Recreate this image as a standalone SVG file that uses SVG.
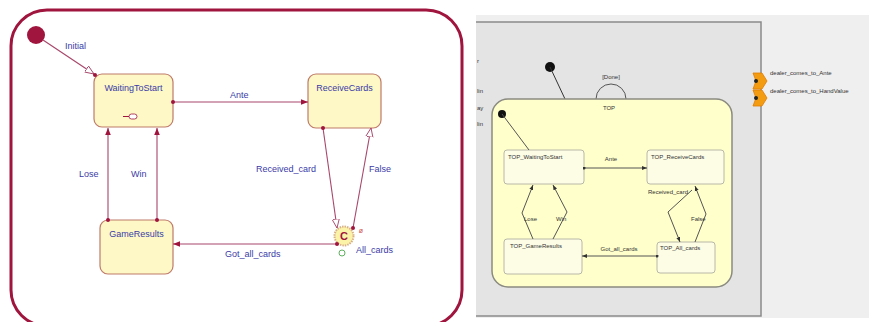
<svg xmlns="http://www.w3.org/2000/svg" width="877" height="322" viewBox="0 0 877 322">
<style>
.lbl{font-family:"Liberation Sans",Arial,sans-serif;font-size:9px;fill:#3b3ba8}
.st{fill:#fdf8c6;stroke:#c07a6a;stroke-width:1.2}
.cn{fill:none;stroke:#a8466a;stroke-width:1.1}
.rl{font-family:"Liberation Sans",Arial,sans-serif;font-size:6px;fill:#333}
.rs{fill:#fdfde6;stroke:#b8b8a8;stroke-width:1}
.rc{fill:none;stroke:#555;stroke-width:1}
</style>
<defs>
<marker id="af" viewBox="0 0 10 10" refX="10" refY="5" markerWidth="7" markerHeight="7" orient="auto" markerUnits="userSpaceOnUse"><path d="M0,1 L10,5 L0,9 z" fill="#a0153e"/></marker>
<marker id="ah" viewBox="0 0 10 10" refX="10" refY="5" markerWidth="9" markerHeight="9" orient="auto" markerUnits="userSpaceOnUse"><path d="M0,1 L10,5 L0,9 z" fill="#fff" stroke="#a8466a" stroke-width="1"/></marker>
<marker id="ds" viewBox="0 0 10 10" refX="5" refY="5" markerWidth="4" markerHeight="4" markerUnits="userSpaceOnUse"><circle cx="5" cy="5" r="5" fill="#a0153e"/></marker>
<marker id="ak" viewBox="0 0 10 10" refX="10" refY="5" markerWidth="5" markerHeight="5" orient="auto" markerUnits="userSpaceOnUse"><path d="M0,1 L10,5 L0,9 z" fill="#333"/></marker>
<marker id="dk" viewBox="0 0 10 10" refX="5" refY="5" markerWidth="3" markerHeight="3" markerUnits="userSpaceOnUse"><circle cx="5" cy="5" r="5" fill="#333"/></marker>
</defs>
<rect width="877" height="322" fill="#fff"/>

<!-- LEFT PANEL -->
<g id="frame-left">
<rect x="11" y="10" width="451" height="316" rx="36" fill="#fff" stroke="#a0153e" stroke-width="3"/>
</g>
<g id="initial">
<circle cx="36" cy="35" r="9" fill="#a0153e"/>
</g>
<g id="WaitingToStart">
<rect class="st" x="94" y="74" width="79" height="53" rx="8"/>
<text class="lbl" x="133.5" y="91" text-anchor="middle">WaitingToStart</text>
<rect x="129" y="114" width="8" height="5" rx="2.5" fill="#fff" stroke="#a0153e" stroke-width="0.8"/>
<line x1="123" y1="116.5" x2="129" y2="116.5" stroke="#a0153e" stroke-width="1"/>
</g>
<g id="ReceiveCards">
<rect class="st" x="308" y="74" width="73" height="54" rx="8"/>
<text class="lbl" x="344.5" y="91" text-anchor="middle">ReceiveCards</text>
</g>
<g id="GameResults">
<rect class="st" x="100" y="220" width="73" height="54" rx="8"/>
<text class="lbl" x="136.5" y="237" text-anchor="middle">GameResults</text>
</g>
<g id="All_cards">
<circle cx="344" cy="236" r="9.5" fill="#fbf3a8" stroke="#d8b088" stroke-width="2" stroke-dasharray="1.5 1"/>
<text x="344" y="240" text-anchor="middle" font-family="Liberation Sans,Arial,sans-serif" font-size="11" font-weight="bold" fill="#a0153e">C</text>
<text x="361" y="233" text-anchor="middle" font-family="Liberation Sans,Arial,sans-serif" font-size="7" fill="#d05050">ø</text>
<circle cx="342" cy="253" r="3" fill="none" stroke="#60b060" stroke-width="1"/>
<text class="lbl" x="356" y="253">All_cards</text>
</g>
<g id="connectors-left">
<line class="cn" x1="43" y1="40" x2="94" y2="74" marker-end="url(#ah)"/>
<circle cx="95" cy="75" r="2" fill="#a0153e"/>
<line class="cn" x1="173" y1="102" x2="308" y2="102" marker-start="url(#ds)" marker-end="url(#af)"/>
<line class="cn" x1="108" y1="220" x2="108" y2="128" marker-start="url(#ds)" marker-end="url(#af)"/>
<line class="cn" x1="157" y1="220" x2="157" y2="128" marker-start="url(#ds)" marker-end="url(#af)"/>
<line class="cn" x1="323" y1="128" x2="337" y2="228" marker-start="url(#ds)" marker-end="url(#ah)"/>
<line class="cn" x1="353" y1="228" x2="371" y2="128" marker-start="url(#ds)" marker-end="url(#ah)"/>
<line class="cn" x1="337" y1="244" x2="173" y2="244" marker-start="url(#ds)" marker-end="url(#af)"/>
<text class="lbl" x="65" y="49">Initial</text>
<text class="lbl" x="230" y="98">Ante</text>
<text class="lbl" x="79" y="177">Lose</text>
<text class="lbl" x="131" y="177">Win</text>
<text class="lbl" x="256" y="172">Received_card</text>
<text class="lbl" x="369" y="172">False</text>
<text class="lbl" x="225" y="257">Got_all_cards</text>
</g>

<!-- RIGHT PANEL -->
<g id="frame-right">
<rect x="476" y="15" width="393" height="303" fill="#efefef"/>
<rect x="476" y="22" width="285" height="294" fill="#e4e4e4"/>
<polyline points="476,22 761,22 761,316 476,316" fill="none" stroke="#8a8a8a" stroke-width="1.5"/>
<text class="rl" x="477" y="63">r</text>
<text class="rl" x="477" y="93">lin</text>
<text class="rl" x="477" y="110">ay</text>
<text class="rl" x="477" y="126">lin</text>
</g>
<g id="outer-initial">
<circle cx="550" cy="67" r="5" fill="#111"/>
<line x1="550" y1="67" x2="565" y2="99" stroke="#333" stroke-width="1"/>
</g>
<g id="TOP">
<path d="M596,99 A15,15 0 0 1 626,99" fill="none" stroke="#555" stroke-width="1"/>
<text class="rl" x="611" y="79" text-anchor="middle">[Done]</text>
<rect x="492" y="99" width="240" height="188" rx="16" fill="#ffffcc" stroke="#8a8a80" stroke-width="1.5"/>
<text class="rl" x="609" y="110" text-anchor="middle">TOP</text>
<circle cx="502" cy="114" r="4" fill="#111"/>
</g>
<g id="TOP_WaitingToStart">
<rect class="rs" x="504" y="150" width="80" height="34" rx="3"/>
<text class="rl" x="508" y="159">TOP_WaitingToStart</text>
</g>
<g id="TOP_ReceiveCards">
<rect class="rs" x="647" y="150" width="77" height="34" rx="3"/>
<text class="rl" x="651" y="159">TOP_ReceiveCards</text>
</g>
<g id="TOP_GameResults">
<rect class="rs" x="504" y="239" width="78" height="35" rx="3"/>
<text class="rl" x="510" y="248">TOP_GameResults</text>
</g>
<g id="TOP_All_cards">
<rect class="rs" x="657" y="242" width="58" height="31" rx="3"/>
<text class="rl" x="660" y="250">TOP_All_cards</text>
</g>
<g id="ports">
<path d="M753,73 L762,73 L767,81 L762,89 L753,89 L756,81 z" fill="#f39c12" stroke="#e07b00" stroke-width="0.8"/>
<circle cx="756" cy="81" r="2" fill="#222"/>
<path d="M753,90 L762,90 L767,98 L762,106 L753,106 L756,98 z" fill="#f39c12" stroke="#e07b00" stroke-width="0.8"/>
<circle cx="756" cy="98" r="2" fill="#222"/>
<text class="rl" x="770" y="75">dealer_comes_to_Ante</text>
<text class="rl" x="770" y="93">dealer_comes_to_HandValue</text>
</g>
<g id="connectors-right">
<line class="rc" x1="502" y1="114" x2="529" y2="150"/>
<line class="rc" x1="584" y1="168" x2="647" y2="168" marker-start="url(#dk)" marker-end="url(#ak)"/>
<line class="rc" x1="657" y1="256" x2="582" y2="256" marker-start="url(#dk)" marker-end="url(#ak)"/>
<polyline class="rc" points="533,239 522,213 533,185" marker-end="url(#ak)"/>
<polyline class="rc" points="553,239 567,212 553,185" marker-end="url(#ak)"/>
<polyline class="rc" points="692,190 668,212 680,242" marker-end="url(#ak)"/>
<polyline class="rc" points="695,242 706,214 695,186" marker-end="url(#ak)"/>
<text class="rl" x="611" y="161" text-anchor="middle">Ante</text>
<text class="rl" x="619" y="251" text-anchor="middle">Got_all_cards</text>
<text class="rl" x="524" y="221">Lose</text>
<text class="rl" x="556" y="221">Win</text>
<text class="rl" x="648" y="194">Received_card</text>
<text class="rl" x="691" y="221">False</text>
</g>
</svg>
